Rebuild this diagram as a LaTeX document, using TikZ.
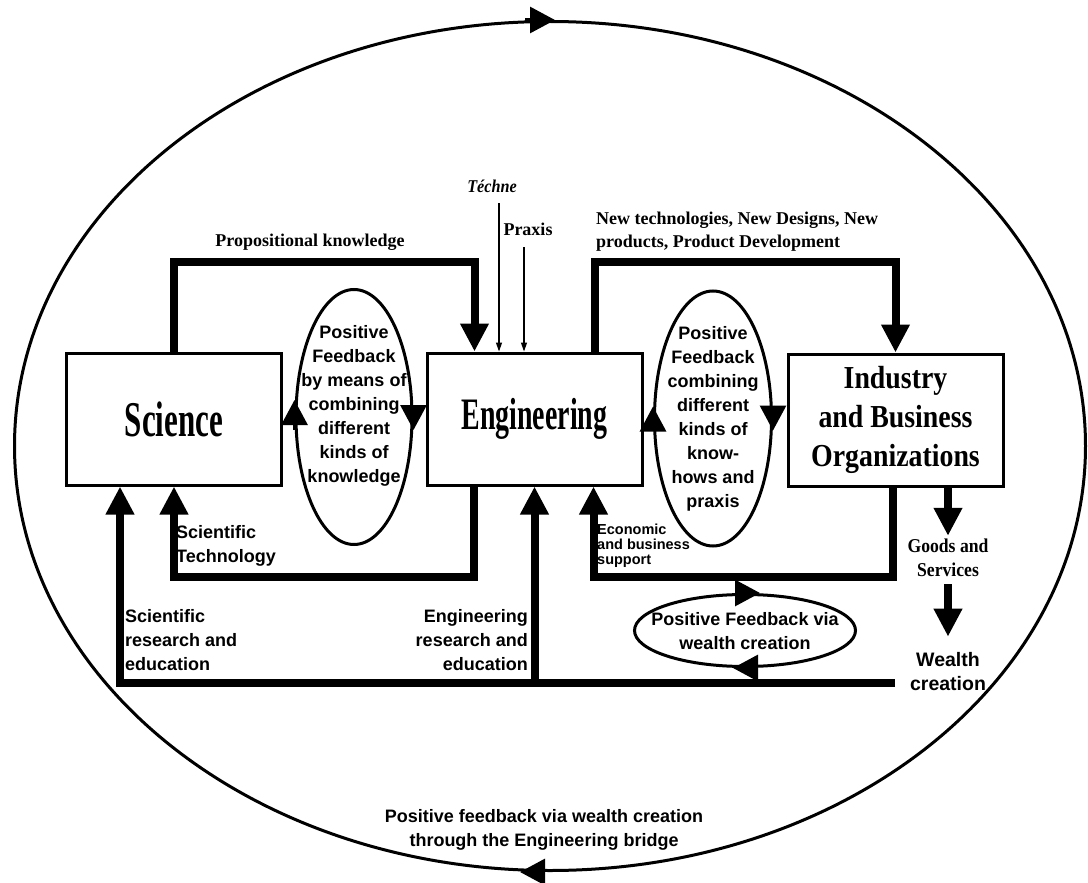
\documentclass[tikz,border=0pt]{standalone}
\usepackage{graphicx}
\usepackage{fontspec}
\setmainfont{Liberation Serif}
\setsansfont{Liberation Sans}
\usetikzlibrary{arrows.meta,shapes.geometric}
\newcommand{\condensed}[2]{\scalebox{#1}[1]{#2}}
\tikzset{
  box/.style={draw, line width=3pt, minimum width=215pt, minimum height=132pt, inner sep=0pt},
  oval/.style={ellipse, draw, line width=3pt, inner sep=0pt},
  conn/.style={line width=8pt, -{Triangle[length=28pt,width=27pt]}},
  ovaltip/.style={line width=3pt, -{Triangle[length=25pt,width=26pt]}},
  inflow/.style={line width=1.2pt, -{Triangle[length=9pt,width=6pt]}},
  seriflab/.style={font=\bfseries\fontsize{18}{23}\selectfont, inner sep=0pt, align=center},
  sanslab/.style={font=\sffamily\bfseries\fontsize{18}{24}\selectfont, inner sep=0pt, align=center},
}

\begin{document}
\begin{tikzpicture}[x=1pt,y=-1pt]
  \useasboundingbox (0,0) rectangle (1088,883);
  \node[oval, minimum width=1071pt, minimum height=849pt] (ring) at (550,446) {};
  \draw[ovaltip] ([xshift=-25pt]ring.north) -- ([xshift=5pt]ring.north);
  \draw[ovaltip] ([xshift=-5pt]ring.south) -- ([xshift=-30pt]ring.south);

  \node[box, font=\bfseries\fontsize{50}{50}\selectfont] (sci) at (174,419) {\condensed{0.62}{Science}};
  \node[box, font=\bfseries\fontsize{45}{45}\selectfont] (eng) at (534.5,419) {\condensed{0.62}{Engineering}};
  \node[box, font=\bfseries\fontsize{32}{39}\selectfont] (ind) at (895.5,420)
    {\condensed{0.87}{\begin{tabular}{@{}c@{}}Industry\\and Business\\Organizations\end{tabular}}};

  \node[oval, minimum width=116pt, minimum height=255pt] (fb1) at (354,417) {};
  \node[oval, minimum width=117pt, minimum height=255pt] (fb2) at (713,418.5) {};
  \node[oval, minimum width=221pt, minimum height=72pt] (via) at (745,630.5) {};
  \draw[ovaltip] ([yshift=-13pt]fb1.west) -- ([yshift=17pt]fb1.west);
  \draw[ovaltip] ([yshift=12pt]fb1.east) -- ([yshift=-13pt]fb1.east);
  \draw[ovaltip] ([yshift=-10pt]fb2.west) -- ([yshift=12pt]fb2.west);
  \draw[ovaltip] ([yshift=13pt]fb2.east) -- ([yshift=-12pt]fb2.east);
  \draw[ovaltip] ([xshift=-10pt]via.north) -- ([xshift=15pt]via.north);
  \draw[ovaltip] ([xshift=12pt]via.south) -- ([xshift=-12pt]via.south);

  \node[sanslab] (fb1txt) at (354,406) {Positive\\Feedback\\by means of\\combining\\different\\kinds of\\knowledge};
  \node[sanslab] (fb2txt) at (713,419) {Positive\\Feedback\\combining\\different\\kinds of\\know-\\hows and\\praxis};
  \node[sanslab] (viatxt) at (745,631) {Positive Feedback via\\wealth creation};

  \node[seriflab] (prop) at (310,242) {Propositional knowledge};
  \node[seriflab, font=\bfseries\itshape\fontsize{18}{22}\selectfont] (techne) at (492,186) {\condensed{0.9}{Téchne}};
  \node[seriflab] (praxis) at (528,229) {Praxis};
  \node[seriflab, anchor=west, align=left] (newtech) at (596,232) {New technologies, New Designs, New\\products, Product Development};
  \coordinate (techneIn) at (499,203);
  \coordinate (praxisIn) at (524,247);

  \node[sanslab, anchor=west, align=left] (scitech) at (176,546) {Scientific\\Technology};
  \node[sanslab, anchor=west, align=left, font=\sffamily\bfseries\fontsize{14.5}{15}\selectfont] (econ) at (597,546) {Economic\\and business\\support};
  \node[sanslab, anchor=west, align=left] (scires) at (125,640) {Scientific\\research and\\education};
  \node[sanslab, anchor=east, align=right] (engres) at (528,640) {Engineering\\research and\\education};
  \node[seriflab, font=\bfseries\fontsize{19.6}{24}\selectfont] (goods) at (948,560)
    {\condensed{0.9}{\begin{tabular}{@{}c@{}}Goods and\\Services\end{tabular}}};
  \node[sanslab, font=\sffamily\bfseries\fontsize{19.5}{24}\selectfont] (wealth) at (948,672) {Wealth\\creation};
  \node[sanslab] (bridge) at (544,830) {Positive feedback via wealth creation\\through the Engineering bridge};
  \coordinate (wealthEnd) at (895,683);

  \draw[conn] (sci.north) -- ++(0,-90) -| ([xshift=-60pt]eng.north);
  \draw[conn] ([xshift=60pt]eng.north) -- ++(0,-90) -| (ind.north);
  \draw[inflow] (techneIn) -- (techneIn |- eng.north);
  \draw[inflow] (praxisIn) -- (praxisIn |- eng.north);
  \draw[conn] ([xshift=-61pt]eng.south) -- ++(0,90) -| (sci.south);
  \draw[conn] ([xshift=-3pt]ind.south) -- ++(0,89) -| ([xshift=59pt]eng.south);
  \draw[conn] (wealthEnd) -| ([xshift=-54pt]sci.south);
  \draw[conn] (eng.south |- wealthEnd) -- (eng.south);
  \draw[conn] ([xshift=52.5pt]ind.south) -- (goods.north);
  \draw[conn] (goods.south) -- ([yshift=16pt]wealth.north);
\end{tikzpicture}
\end{document}
